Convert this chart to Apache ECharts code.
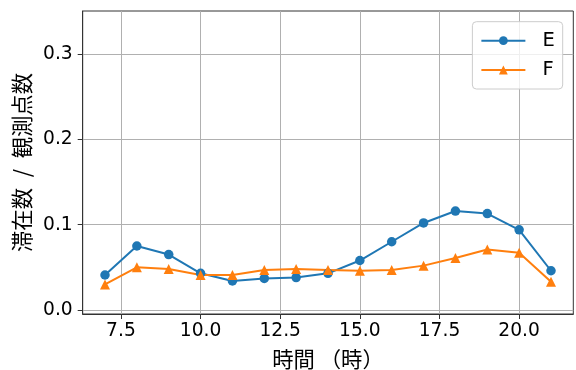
<!DOCTYPE html>
<html>
<head>
<meta charset="utf-8">
<script src="https://cdn.jsdelivr.net/npm/echarts@6/dist/echarts.min.js"></script>
<style>
  html, body { margin: 0; padding: 0; background: #fff; }
  #chart { width: 576px; height: 370px; }
</style>
</head>
<body>
<div id="chart"></div>
<script>
// Hour of day and the ratio (stays / observation points) for two groups
const hours = [7, 8, 9, 10, 11, 12, 13, 14, 15, 16, 17, 18, 19, 20, 21];
const valuesE = [0.041, 0.075, 0.065, 0.043, 0.034, 0.037, 0.038, 0.043, 0.058, 0.080, 0.102, 0.116, 0.113, 0.094, 0.046];
const valuesF = [0.030, 0.050, 0.048, 0.041, 0.041, 0.047, 0.048, 0.047, 0.046, 0.047, 0.052, 0.061, 0.071, 0.067, 0.033];
const xTicks = [7.5, 10, 12.5, 15, 17.5, 20];
const yTicks = [0, 0.1, 0.2, 0.3];
const seriesNames = ['E', 'F'];

const pairs = vals => hours.map((h, i) => [h, vals[i]]);

const tickFont = 'DejaVu Sans';
const cjkFont = 'Noto Sans CJK JP';
const tickSize = 18.67;
const labelSize = 21.33;
const gridColor = '#b0b0b0';
const spineColor = '#333';

const chart = echarts.init(document.getElementById('chart'), null, { renderer: 'canvas' });
chart.setOption({
  animation: false,
  backgroundColor: '#fff',
  grid: { left: 82.7, right: 2.7, top: 11, bottom: 56, containLabel: false, outerBoundsMode: 'none',
          show: true, borderColor: spineColor, borderWidth: 1 },
  legend: {
    data: seriesNames,
    orient: 'vertical',
    right: 13.3, top: 21.7,
    itemWidth: 44, itemHeight: 11, itemGap: 7.3,
    padding: [8, 8, 8, 8],
    backgroundColor: 'rgba(255,255,255,0.8)',
    borderColor: '#cccccc', borderWidth: 1, borderRadius: 4,
    textStyle: { fontFamily: tickFont, fontSize: 19.5, color: '#000', lineHeight: 22, padding: [0, 0, 0, 12] }
  },
  xAxis: {
    type: 'value', min: 6.3, max: 21.7,
    name: '時間 （時）', nameLocation: 'middle', nameGap: 34,
    nameTextStyle: { fontFamily: cjkFont, fontSize: labelSize, color: '#000' },
    axisLine: { show: true, onZero: false, lineStyle: { color: spineColor, width: 1 } },
    axisTick: { show: true, customValues: xTicks, length: 5, lineStyle: { color: spineColor } },
    axisLabel: { customValues: xTicks, fontFamily: tickFont, fontSize: tickSize, color: '#000', margin: 8,
                 formatter: v => v.toFixed(1) },
    splitLine: { show: true, lineStyle: { color: gridColor, width: 1 } }
  },
  yAxis: {
    type: 'value', min: -0.0047, max: 0.3505,
    name: '滞在数\u2002/\u2002観測点数', nameLocation: 'middle', nameGap: 46,
    nameTextStyle: { fontFamily: cjkFont, fontSize: labelSize, color: '#000' },
    axisLine: { show: true, onZero: false, lineStyle: { color: spineColor, width: 1 } },
    axisTick: { show: true, customValues: yTicks, length: 5, lineStyle: { color: spineColor } },
    axisLabel: { customValues: yTicks, fontFamily: tickFont, fontSize: tickSize, color: '#000', margin: 10,
                 formatter: v => v.toFixed(1) },
    splitLine: { show: true, lineStyle: { color: gridColor, width: 1 } }
  },
  series: [
    {
      name: seriesNames[0], type: 'line', data: pairs(valuesE),
      color: '#1f77b4', symbol: 'circle', symbolSize: 9.5, showAllSymbol: true,
      lineStyle: { width: 2 }, itemStyle: { color: '#1f77b4' }
    },
    {
      name: seriesNames[1], type: 'line', data: pairs(valuesF),
      color: '#ff7f0e', symbol: 'triangle', symbolSize: 10, showAllSymbol: true,
      lineStyle: { width: 2 }, itemStyle: { color: '#ff7f0e' }
    }
  ]
});
</script>
</body>
</html>
